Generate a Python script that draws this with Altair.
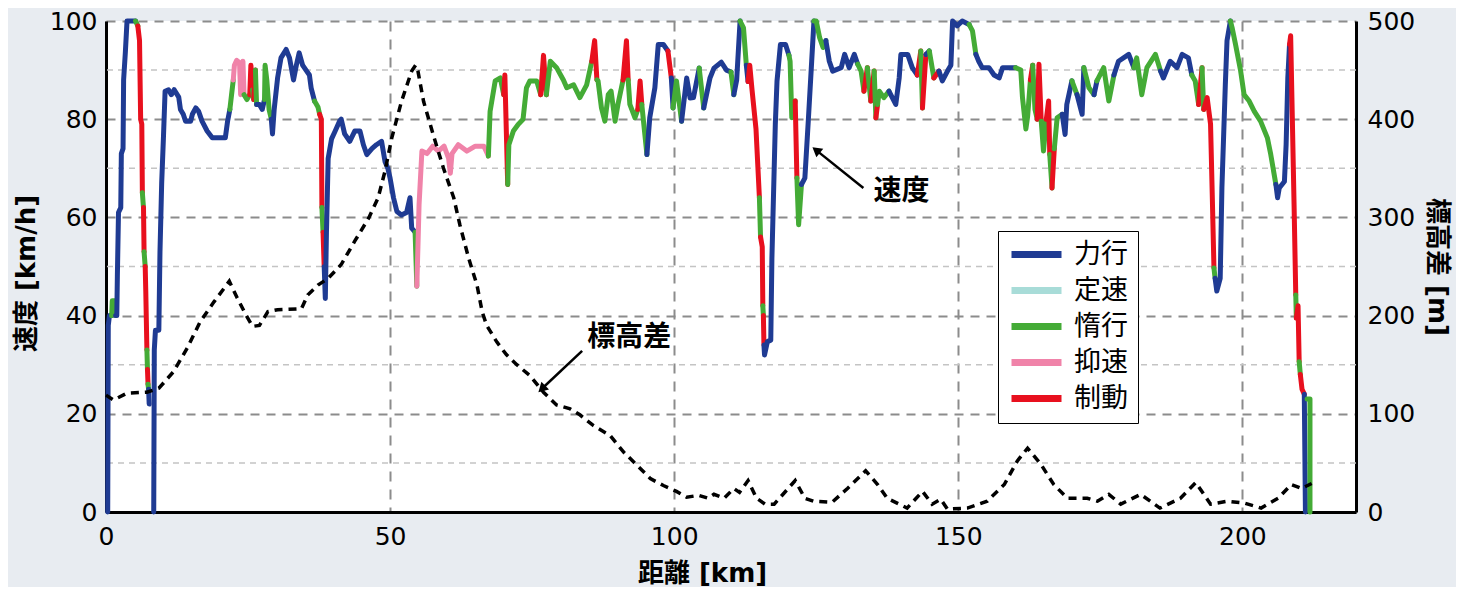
import altair as alt
import pandas as pd

# ---------------- data ----------------
MODE_LABELS = {"P": "力行", "C": "定速", "D": "惰行", "S": "抑速", "B": "制動"}
LEGEND_ORDER = ["力行", "定速", "惰行", "抑速", "制動"]
LEGEND_COLORS = ["#1f3b93", "#a8dcd8", "#44ab36", "#f083a9", "#e8101e"]

# speed trace: distance [km], speed [km/h], mode of the segment that ends at this point
# ("X" = no line drawn to this point)
speed_km = [0.3, 0.4, 0.6, 1.0, 1.1, 1.6, 1.7, 1.9, 2.0, 2.2, 2.6, 2.7, 3.0, 3.1, 3.4, 3.7, 5.2, 5.6, 5.9, 6.1,
            6.3, 6.4, 6.6, 6.7, 6.9, 7.0, 7.2, 7.3, 7.4, 7.5, 7.6,
            8.4, 8.5, 8.7, 9.3, 9.5, 9.8, 10.1, 10.4, 11.0, 11.5, 12.0, 12.8, 13.1, 13.6, 14.0, 14.9, 15.2, 15.8, 16.3,
            16.9, 17.8, 18.7, 21.0, 21.4, 21.8, 22.1, 22.4, 22.6, 23.0, 23.5, 23.7, 24.1, 24.3, 24.8, 25.3, 25.5, 25.8,
            26.0, 26.3, 26.5, 27.0, 27.5, 27.9, 28.0, 28.3, 28.7, 29.1, 29.3, 29.6, 30.2, 30.8, 31.7, 32.3, 33.0, 33.5,
            34.0, 34.6, 35.2, 35.8, 36.1, 36.7, 37.3, 37.6, 37.9, 38.0, 38.2, 38.4, 38.6, 38.8, 39.1, 39.7, 40.3, 41.1,
            41.4, 42.0, 42.9, 43.8, 44.7, 45.3, 45.9, 46.8, 47.6, 48.5, 49.1, 49.6, 50.0, 50.6, 51.2, 52.0, 52.9, 53.5,
            53.8, 54.4, 54.6, 54.7, 54.9, 55.1, 55.6, 56.5, 57.5, 58.5, 59.5, 60.3, 60.6, 60.9, 62.0, 63.5, 65.0, 66.5,
            67.3, 67.6, 68.5, 69.4, 70.0, 70.2, 70.7, 70.9, 71.7, 72.6, 73.4, 74.0, 74.6, 75.8, 76.5, 77.0, 77.5, 78.2,
            79.3, 80.5, 81.1, 82.3, 83.4, 84.6, 85.5, 86.0, 86.4, 86.6, 87.2, 87.8, 88.4, 88.9, 89.6, 90.1, 91.0, 91.6,
            91.9, 92.2, 93.1, 93.6, 94.0, 94.3, 94.6, 95.2, 95.7, 96.6, 97.2, 98.1, 98.9, 99.5, 99.8, 100.4, 101.3,
            102.2, 102.8, 103.4, 104.4, 105.2, 106.3, 107.0, 108.3, 109.2, 110.0, 110.5, 111.0, 111.6, 112.2, 112.7,
            113.0, 113.3, 113.7, 114.4, 115.0, 115.2, 115.5, 115.6, 115.7, 115.8, 115.9, 116.4, 117.0, 117.2, 117.8,
            118.1, 118.7, 119.6, 120.2, 120.4, 120.7, 121.3, 121.6, 121.9, 122.4, 123.0, 123.6, 124.2, 124.6, 125.0,
            125.6, 126.2, 126.7, 127.3, 127.9, 129.4, 130.0, 130.8, 131.7, 132.3, 132.9, 133.4, 134.0, 134.6, 135.2,
            135.5, 135.8, 136.1, 136.9, 137.8, 139.0, 139.6, 139.9, 141.1, 141.9, 142.8, 143.4, 143.7, 144.3, 144.9,
            145.7, 146.6, 147.2, 148.1, 148.7, 149.0, 149.8, 150.7, 151.9, 152.5, 153.1, 153.6, 154.2, 155.4, 156.3,
            157.2, 157.8, 160.1, 161.0, 161.3, 161.9, 162.2, 162.7, 163.1, 163.5, 163.9, 164.2, 164.6, 165.0, 165.5,
            165.9, 166.1, 166.5, 166.9, 167.4, 168.3, 168.8, 169.1, 170.0, 170.9, 171.8, 172.1, 173.0, 173.9, 174.4,
            175.6, 176.5, 177.4, 178.2, 180.0, 180.9, 181.4, 182.3, 183.2, 184.7, 185.6, 186.1, 187.3, 188.5, 189.4,
            190.5, 191.1, 191.7, 192.3, 192.9, 193.2, 193.8, 194.4, 194.7, 195.0, 195.2, 195.5, 196.1, 196.4, 197.0,
            197.3, 197.9, 198.2, 198.8, 199.7, 200.3, 201.2, 202.1, 203.2, 204.4, 205.0, 205.9, 206.2, 206.5, 207.4,
            207.7, 208.0, 208.3, 208.5, 209.1, 209.4, 209.5, 209.8, 210.0, 210.2, 210.5, 210.9, 211.1,
            211.4, 211.9, 211.9]
speed_val = [0, 38, 40, 40, 43, 43, 40, 40, 48, 61, 62, 73, 74, 88, 93.5, 100, 100, 99, 96, 80,
             79, 65, 62, 53, 50, 45, 33, 29, 26, 25, 22,
             0, 33, 37, 37, 53, 67, 76, 85.7, 86, 85, 86, 84.5, 82, 81, 79.6, 79.6, 81, 82.3, 81.6,
             79.6, 77.6, 76.2, 76.2, 79.6, 82, 85, 88, 91, 92, 91.5, 85, 91.8, 85, 84, 85, 91, 86,
             84, 90, 83, 83, 82, 84, 91, 88, 82, 80, 77, 82, 88.4, 92.5, 94.2, 92.5, 88, 91,
             93.5, 91, 90, 89, 86.4, 83.7, 82.5, 81, 80, 62, 57, 50, 43.5, 57, 72, 76, 77.5, 79.6,
             80, 77, 75.5, 77.6, 77.6, 74.8, 72.8, 74, 74.8, 75.5, 71.4, 70, 68, 64, 61.2, 60.5, 61, 64,
             57.8, 57, 50, 46, 54, 62.6, 73.5, 73, 74.5, 73.5, 74.5, 72, 69, 73, 74.8, 73.5, 74.5, 74.5,
             72.5, 81.6, 87.8, 88.4, 85, 89, 66.7, 74.8, 77.6, 79, 80, 86.4, 87.8, 87.8, 85, 93, 85, 91.8,
             90.5, 88, 86.4, 87, 84.4, 87, 91.8, 96, 88, 87.8, 82.3, 79.6, 85, 85.7, 79.6, 83, 88, 96,
             88, 83, 80.3, 82, 87.8, 83, 79.6, 72.8, 80.3, 86.4, 95.2, 95.2, 93.9, 88.4, 82.3, 87.8, 79.6,
             88.4, 84.3, 84.4, 90.4, 82.3, 88.4, 90.4, 91.6, 90, 89.6, 85, 88, 100, 98.6, 91,
             87.7, 91, 86, 78, 64, 56, 54, 42, 40, 34, 32, 34.7, 35, 51.7, 79,
             87.8, 95.2, 95.2, 93, 91.8, 80.3, 83.7, 68, 58.5, 66.7, 68, 79.6, 91.8, 100, 100,
             96.6, 94.6, 96, 91.8, 89.8, 90.5, 93.2, 90.5, 93.2, 91.2, 89.8, 85.7, 90.5, 83.7, 89.8,
             80.3, 83, 85.7, 84.4, 85.7, 83, 88.4, 93.2, 93.2, 90.5, 89, 93.9, 82.3, 93.2, 93.9,
             88.4, 89.8, 87.8, 89.8, 91, 100, 99, 100, 99.3, 98, 93.2, 91.8, 90.5, 90.5, 89,
             88.4, 90.5, 90.5, 90, 84.4, 78, 80.5, 88, 91, 82, 80, 91.2, 79.6, 73.5, 80,
             83.7, 72.8, 66, 74, 80.3, 81, 76.9, 83, 87.8, 85, 81, 90.5, 86.4, 85, 87.8,
             90.5, 83.7, 89, 91.8, 93.2, 90.5, 92.5, 85, 90.5, 93.2, 89.8, 88.4, 91.8, 90.5, 93.2,
             92.5, 89, 87.8, 83, 90.5, 82, 84.4, 79, 64.6, 49.7, 47.6, 45, 47.6, 66, 87,
             96, 100, 98.6, 95.2, 89.8, 85, 83.7, 81.6, 79.6, 76.2, 72.8, 66.7, 64, 66, 67.3,
             74.8, 88.4, 95.2, 97, 62.6, 44.2, 39.5, 42, 30.6, 28, 25, 24, 0,
             23, 23, 0]
speed_mode = ["P", "P", "P", "P", "D", "D", "D", "P", "P", "P", "P", "P", "P", "P", "P", "P", "P", "D", "B", "B",
              "B", "B", "D", "B", "D", "B", "B", "D", "B", "D", "P",
              "X", "P", "P", "P", "P", "P", "P", "P", "P", "P", "P", "P", "P", "P", "P", "P", "P", "P", "P",
              "P", "P", "P", "P", "P", "P", "D", "D", "S", "S", "S", "S", "S", "S", "D", "D", "B", "B",
              "D", "B", "D", "P", "P", "P", "D", "D", "D", "D", "P", "P", "P", "P", "P", "P", "P", "P",
              "P", "P", "P", "P", "P", "P", "D", "D", "B", "B", "D", "B", "P", "P", "P", "P", "P", "P",
              "P", "P", "P", "P", "P", "P", "P", "P", "P", "P", "P", "P", "P", "P", "P", "P", "P", "P",
              "P", "P", "D", "D", "S", "S", "S", "S", "S", "S", "S", "S", "S", "S", "S", "S", "S", "S",
              "S", "D", "D", "D", "D", "B", "B", "D", "D", "D", "D", "D", "D", "D", "D", "B", "B", "D",
              "D", "D", "D", "D", "D", "D", "D", "B", "B", "D", "D", "D", "D", "D", "D", "D", "D", "B",
              "B", "D", "D", "D", "B", "B", "D", "D", "P", "P", "P", "P", "P", "B", "P", "D", "D",
              "P", "P", "P", "P", "D", "P", "P", "P", "P", "P", "D", "P", "P", "D", "D",
              "P", "B", "B", "B", "B", "D", "B", "B", "D", "B", "P", "P", "P", "P", "P",
              "P", "P", "P", "P", "D", "D", "D", "B", "D", "D", "P", "P", "P", "P", "D",
              "D", "D", "D", "P", "P", "P", "P", "P", "P", "P", "D", "D", "B", "D", "B",
              "D", "B", "D", "D", "D", "P", "P", "P", "P", "P", "P", "B", "D", "B", "P",
              "D", "B", "P", "P", "P", "P", "P", "P", "P", "D", "D", "P", "P", "P", "P",
              "P", "P", "P", "D", "D", "D", "D", "D", "B", "D", "D", "B", "B", "D", "D",
              "B", "B", "D", "B", "D", "D", "P", "P", "P", "D", "P", "P", "D", "D", "P",
              "D", "D", "D", "P", "P", "P", "D", "D", "D", "D", "D", "P", "P", "P", "P",
              "P", "P", "D", "D", "B", "D", "B", "B", "B", "B", "D", "P", "P", "P", "P",
              "P", "P", "D", "D", "D", "D", "D", "D", "D", "D", "D", "D", "P", "P", "P",
              "P", "P", "P", "B", "B", "B", "D", "B", "B", "D", "B", "B", "P",
              "X", "D", "D"]

# elevation difference: distance [km], height [m]
elev_km = [0, 1.3, 3.7, 7.2, 9.3, 11.9, 14.3, 16.6, 19.0, 21.7, 23.1, 24.6, 25.8, 27.0, 28.5, 30.2, 34.4, 35.5,
           37.3, 39.1, 41.4, 43.8, 46.2, 47.9, 49.1, 50.3, 52.0, 53.8, 54.5, 54.9, 55.9, 57.6, 59.4, 61.2, 62.3,
           63.8, 65.3, 66.2, 67.0, 68.8, 70.5, 72.3, 74.6, 77.0, 79.3, 81.7, 83.4, 85.8, 88.7, 91.1, 93.4, 95.8,
           98.1, 100.4, 102.2, 104.3, 106.0, 107.0, 108.8, 110.5, 111.5, 113.0, 114.5, 116.0, 117.6, 121.3, 123.0,
           124.5, 127.8, 130.5, 133.7, 135.8, 137.5, 141.0, 143.7, 145.4, 146.9, 148.1, 151.6, 155.1, 158.1, 160.4,
           162.2, 164.5, 166.8, 169.2, 172.7, 174.5, 176.5, 178.6, 182.1, 185.5, 189.1, 191.8, 194.4, 197.4, 200.4,
           203.3, 206.3, 208.6, 210.4, 212.2]
elev_m = [119, 114, 121, 122, 126, 143, 167, 194, 214, 235, 218, 201, 189, 190, 204, 206, 207, 221,
          231, 238, 252, 276, 299, 320, 347, 381, 418, 449, 455, 449, 418, 384, 350, 320, 292,
          259, 231, 204, 190, 173, 160, 150, 139, 122, 109, 105, 99, 88, 78, 61, 48, 34,
          27, 21, 15, 17, 14, 18, 14, 24, 20, 32, 14, 8, 8, 32, 14,
          11, 10, 24, 42, 28, 14, 4, 21, 8, 13, 3, 4, 11, 28, 52,
          65, 49, 28, 14, 14, 11, 18, 8, 18, 4, 14, 30, 8, 11, 9,
          4, 14, 28, 24, 29]

# axes
x_ticks = [0, 50, 100, 150, 200]
speed_ticks = [0, 20, 40, 60, 80, 100]
speed_minor = [10, 30, 50, 70, 90]
elev_ticks = [0, 100, 200, 300, 400, 500]

# annotations (in distance / speed coordinates)
note_text = ["速度", "標高差"]
note_km = [140.0, 92.1]
note_speed = [65.2, 35.4]
arrow_km_tail = [133.3, 83.8]
arrow_sp_tail = [66.0, 32.8]
arrow_km_head = [125.2, 76.9]
arrow_sp_head = [73.5, 25.3]
arrow_angle = [309, 226]

# ---------------- build tables ----------------
rows = []
run = 0
prev = None
for i in range(1, len(speed_km)):
    m = speed_mode[i]
    if m == "X":
        prev = None
        continue
    if m != prev:
        run += 1
        rows.append(dict(km=speed_km[i - 1], v=speed_val[i - 1], mode=MODE_LABELS[m], run=run, o=i - 0.5))
    rows.append(dict(km=speed_km[i], v=speed_val[i], mode=MODE_LABELS[m], run=run, o=i))
    prev = m
speed_df = pd.DataFrame(rows)
elev_df = pd.DataFrame({"km": elev_km, "m": elev_m})
minor_df = pd.DataFrame({"v": speed_minor})
note_df = pd.DataFrame({"t": note_text, "km": note_km, "v": note_speed})
arrow_df = pd.DataFrame({"km": arrow_km_tail, "v": arrow_sp_tail, "km2": arrow_km_head,
                         "v2": arrow_sp_head, "ang": arrow_angle})

FONT_NUM = "DejaVu Sans, Noto Sans CJK JP"
FONT_CJK = "Noto Sans CJK JP"

x_scale = alt.Scale(domain=[0, 220], nice=False, zero=False)
y_scale = alt.Scale(domain=[0, 100], nice=False)

x_axis = alt.Axis(values=x_ticks, title="距離 [km]", grid=True, gridDash=[10, 8], gridColor="#8c8c8c",
                  gridWidth=2, domainColor="black", domainWidth=3, ticks=False, labelPadding=12,
                  labelFlush=False, labelOverlap=False,
                  labelFontSize=25, labelFont=FONT_NUM, labelColor="black", titleFont=FONT_NUM,
                  titleFontSize=26, titleFontWeight="bold", titleColor="black", titlePadding=11,
                  titleX=596, titleAlign="center")
y_axis = alt.Axis(values=speed_ticks, title="速度 [km/h]", grid=True, gridDash=[9, 7], gridColor="#8c8c8c",
                  gridWidth=2, domainColor="black", domainWidth=3, ticks=False, labelPadding=9,
                  labelFlush=False, labelOverlap=False,
                  labelFontSize=25, labelFont=FONT_NUM, labelColor="black", titleFont=FONT_NUM,
                  titleFontSize=26, titleFontWeight="bold", titleColor="black", titlePadding=10,
                  titleY=252, titleAlign="center")
e_axis = alt.Axis(values=elev_ticks, title="標高差 [m]", orient="right", grid=False, domainColor="black",
                  domainWidth=3, ticks=False, labelPadding=11, labelFontSize=25, labelFont=FONT_NUM,
                  labelFlush=False, labelOverlap=False,
                  labelColor="black", titleFont=FONT_NUM, titleFontSize=26, titleFontWeight="bold",
                  titleColor="black", titlePadding=9)

X = lambda f: alt.X(f, scale=x_scale, axis=x_axis)
Y = lambda f: alt.Y(f, scale=y_scale, axis=y_axis)

minor = alt.Chart(minor_df).mark_rule(color="#c4c4c4", strokeDash=[6, 5], strokeWidth=1.5).encode(
    y=Y("v:Q")
)

speed_line = alt.Chart(speed_df).mark_line(strokeWidth=5, strokeJoin="round", strokeCap="round").encode(
    x=X("km:Q"),
    y=Y("v:Q"),
    color=alt.Color("mode:N", scale=alt.Scale(domain=LEGEND_ORDER, range=LEGEND_COLORS),
                    legend=alt.Legend(orient="none", legendX=892, legendY=210, title=None,
                                      symbolType="M-2.5,0H2.5", symbolStrokeWidth=7, symbolSize=400,
                                      symbolOffset=15,
                                      labelFont=FONT_CJK, labelFontSize=27, labelColor="black",
                                      strokeColor="black", fillColor="white", padding=10,
                                      rowPadding=7, labelOffset=24)),
    detail="run:N",
    order="o:Q",
)

arrows = alt.Chart(arrow_df).mark_rule(color="black", strokeWidth=2.5).encode(
    x=X("km:Q"), y=Y("v:Q"), x2="km2:Q", y2="v2:Q")
heads = alt.Chart(arrow_df).mark_point(shape="triangle", filled=True, color="black", size=120,
                                        opacity=1).encode(
    x=X("km2:Q"), y=Y("v2:Q"), angle=alt.Angle("ang:Q", scale=None))
notes = alt.Chart(note_df).mark_text(font=FONT_CJK, fontSize=28, fontWeight="bold", color="black").encode(
    x=X("km:Q"), y=Y("v:Q"), text="t:N")

left = alt.layer(minor, speed_line, arrows, heads, notes)

elev = alt.Chart(elev_df).mark_line(color="black", strokeDash=[8, 6], strokeWidth=3.5).encode(
    x=X("km:Q"),
    y=alt.Y("m:Q", scale=alt.Scale(domain=[0, 500], nice=False), axis=e_axis),
)

chart = alt.layer(left, elev).resolve_scale(y="independent").properties(
    width=1250, height=491, background="#e8ecf1",
    padding={"left": 98, "top": 13, "right": 100, "bottom": 75},
    autosize=alt.AutoSizeParams(type="none"),
).configure_view(fill="white", stroke=None)

chart.save("out.html", embed_options={"renderer": "svg", "actions": False})
